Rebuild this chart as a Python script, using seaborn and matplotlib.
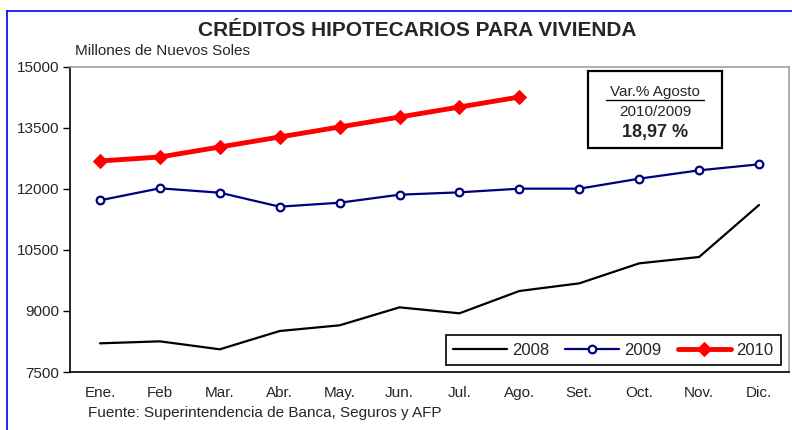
import numpy as np
import pandas as pd
import matplotlib
matplotlib.use("Agg")
import matplotlib.pyplot as plt
import seaborn as sns
from matplotlib.patches import Rectangle

# Data (millones de nuevos soles)
months = ["Ene.", "Feb", "Mar.", "Abr.", "May.", "Jun.", "Jul.", "Ago.", "Set.", "Oct.", "Nov.", "Dic."]
y2008 = [8205, 8254, 8058, 8508, 8648, 9090, 8943, 9492, 9680, 10172, 10328, 11607]
y2009 = [11722, 12017, 11909, 11565, 11663, 11860, 11918, 12008, 12008, 12254, 12459, 12607]
y2010 = [12689, 12787, 13033, 13279, 13525, 13770, 14016, 14262]
yticks = [7500, 9000, 10500, 12000, 13500, 15000]

sns.set_style("white")
plt.rcParams["font.family"] = ["Liberation Sans", "DejaVu Sans"]

fig = plt.figure(figsize=(7.92, 4.30), dpi=100)
ax = fig.add_axes([70 / 792, 58 / 430, 719 / 792, 305 / 430])

x = np.arange(len(months))
df08 = pd.DataFrame({"x": x, "v": y2008})
df09 = pd.DataFrame({"x": x, "v": y2009})
df10 = pd.DataFrame({"x": x[:len(y2010)], "v": y2010})

sns.lineplot(data=df08, x="x", y="v", ax=ax, color="black", linewidth=1.6, label="2008")
sns.lineplot(data=df09, x="x", y="v", ax=ax, color="#000080", linewidth=1.6, marker="o",
             markersize=5.5, markerfacecolor="white", markeredgecolor="#000080",
             markeredgewidth=1.6, label="2009")
sns.lineplot(data=df10, x="x", y="v", ax=ax, color="#ff0000", linewidth=3.5, marker="D",
             markersize=7, markeredgecolor="#ff0000", label="2010")

ax.set_xlim(-0.5, len(months) - 0.5)
ax.set_ylim(7500, 15000)
ax.set_yticks(yticks)
ax.set_yticklabels([str(v) for v in yticks], fontsize=11)
ax.set_xticks(x)
ax.set_xticklabels(months, fontsize=11)
ax.set_xticks(np.arange(-0.5, len(months), 1), minor=True)
ax.tick_params(axis="x", which="major", length=0, pad=10)
ax.tick_params(axis="x", which="minor", length=5, width=1, color="black", direction="out")
ax.tick_params(axis="y", length=5, width=1, color="black", direction="out", left=True, pad=3)
ax.set_xlabel("")
ax.set_ylabel("")

for side in ["left", "bottom"]:
    ax.spines[side].set_color("black")
    ax.spines[side].set_linewidth(1.2)
for side in ["top", "right"]:
    ax.spines[side].set_color("#a0a0a0")
    ax.spines[side].set_linewidth(1.2)

leg = ax.legend(ncol=3, loc="lower right", bbox_to_anchor=(1.0, -0.005), fontsize=12,
                frameon=True, fancybox=False, edgecolor="black", framealpha=1,
                handlelength=3.2, handletextpad=0.3, columnspacing=1.0, borderpad=0.45)
leg.get_frame().set_linewidth(1.2)

# annotation box
ax.add_patch(Rectangle((588 / 792, (430 - 148) / 430), 134 / 792, 77 / 430,
                       transform=fig.transFigure, fill=False, edgecolor="black",
                       linewidth=1.6, zorder=5))
fig.text(655 / 792, 1 - 92 / 430, "Var.% Agosto", ha="center", va="center", fontsize=11)
fig.add_artist(plt.Line2D([606 / 792, 704 / 792], [1 - 100 / 430, 1 - 100 / 430],
                          color="black", linewidth=1))
fig.text(655 / 792, 1 - 112 / 430, "2010/2009", ha="center", va="center", fontsize=11)
fig.text(655 / 792, 1 - 132 / 430, "18,97 %", ha="center", va="center", fontsize=13,
         fontweight="bold")

fig.text(417 / 792, 1 - 30 / 430, "CRÉDITOS HIPOTECARIOS PARA VIVIENDA", ha="center",
         va="center", fontsize=15, fontweight="bold")
fig.text(75 / 792, 1 - 51 / 430, "Millones de Nuevos Soles", ha="left", va="center", fontsize=11)
fig.text(88 / 792, 1 - 413 / 430, "Fuente: Superintendencia de Banca, Seguros y AFP",
         ha="left", va="center", fontsize=11)

# blue frame
fig.add_artist(plt.Line2D([7 / 792, 7 / 792], [0, 1 - 11 / 430], color="#0000ff", linewidth=1.2))
fig.add_artist(plt.Line2D([7 / 792, 1], [1 - 11 / 430, 1 - 11 / 430], color="#0000ff", linewidth=1.2))

fig.savefig("out.png", dpi=100)
